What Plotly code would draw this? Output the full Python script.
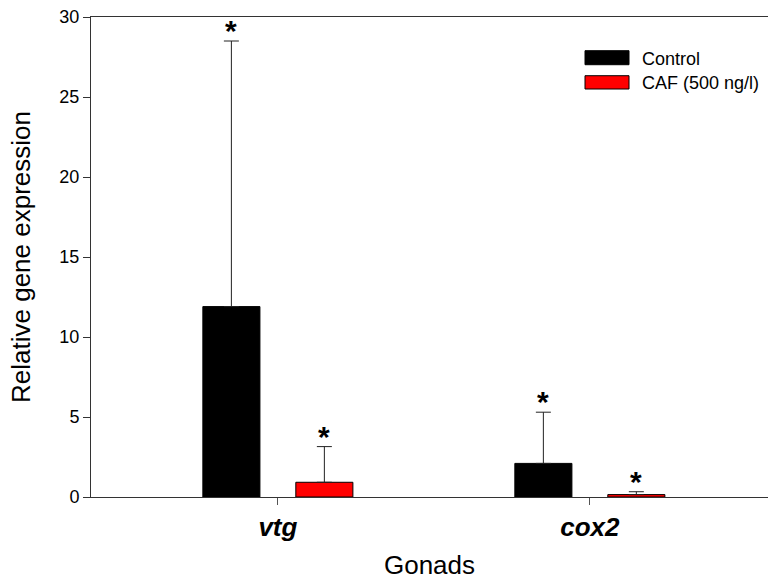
import plotly.graph_objects as go

categories = ["vtg", "cox2"]
tick_labels = ["<b><i>vtg</i></b>", "<b><i>cox2</i></b>"]
series_names = ["Control", "CAF (500 ng/l)"]
control_values = [11.9, 2.1]
control_err = [16.6, 3.2]
caf_values = [0.92, 0.15]
caf_err = [2.23, 0.18]
significance = [["*", "*"], ["*", "*"]]

FONT = "Liberation Sans, Arial, sans-serif"
colors = ["#000000", "#ff0000"]

BARGAP = 0.404
GROUPGAP = 0.386
slot = (1 - BARGAP) / 2

fig = go.Figure()
for k, (name, vals, errs) in enumerate([(series_names[0], control_values, control_err),
                                         (series_names[1], caf_values, caf_err)]):
    fig.add_trace(go.Bar(
        x=list(range(len(categories))), y=vals, name=name,
        marker=dict(color=colors[k], line=dict(color="#000000", width=1)),
        error_y=dict(type="data", symmetric=False, array=errs,
                     arrayminus=[0] * len(errs), color="#222222",
                     thickness=1, width=7.5),
        showlegend=False,
    ))

# significance asterisks above error bars
for k, (vals, errs) in enumerate([(control_values, control_err), (caf_values, caf_err)]):
    for i in range(len(categories)):
        xc = i + (k - 0.5) * slot
        fig.add_annotation(x=xc, y=vals[i] + errs[i], text="<b>" + significance[k][i] + "</b>",
                           showarrow=False, yanchor="bottom", yshift=-8,
                           font=dict(family=FONT, size=30, color="#000"))

# manual legend
leg = [(0.9298, 0.9006, 0.913), (0.8777, 0.850, 0.862)]
for k, (y1, y0, yt) in enumerate(leg):
    fig.add_shape(type="rect", xref="paper", yref="paper", x0=0.7297, x1=0.7947,
                  y0=y0, y1=y1, fillcolor=colors[k], line=dict(color="#000", width=1))
    fig.add_annotation(xref="paper", yref="paper", x=0.811, y=yt, text=series_names[k],
                       showarrow=False, xanchor="left", yanchor="middle",
                       font=dict(family=FONT, size=18, color="#000"))

fig.update_layout(
    width=768, height=580,
    margin=dict(l=91, r=0, t=17, b=83),
    paper_bgcolor="white", plot_bgcolor="white",
    barmode="group", bargap=BARGAP, bargroupgap=GROUPGAP,
    font=dict(family=FONT, color="#000"),
    xaxis=dict(
        tickmode="array", tickvals=list(range(len(categories))), ticktext=tick_labels,
        range=[-0.599, 1.571], showgrid=False, zeroline=False,
        showline=True, linecolor="#333", linewidth=1, mirror=True,
        ticks="outside", ticklen=7, tickcolor="#555", tickwidth=1,
        tickfont=dict(family=FONT, size=26, color="#000"),
        title=dict(text="Gonads", font=dict(family=FONT, size=26, color="#000"), standoff=15),
    ),
    yaxis=dict(
        range=[0, 30], tickvals=[0, 5, 10, 15, 20, 25, 30], showgrid=False, zeroline=False,
        showline=True, linecolor="#333", linewidth=1,
        ticks="outside", ticklen=7, tickcolor="#333", tickwidth=1,
        tickfont=dict(family=FONT, size=18, color="#000"),
        title=dict(text="Relative gene expression", font=dict(family=FONT, size=26, color="#000"), standoff=21),
    ),
)

fig.write_html("out.html")
